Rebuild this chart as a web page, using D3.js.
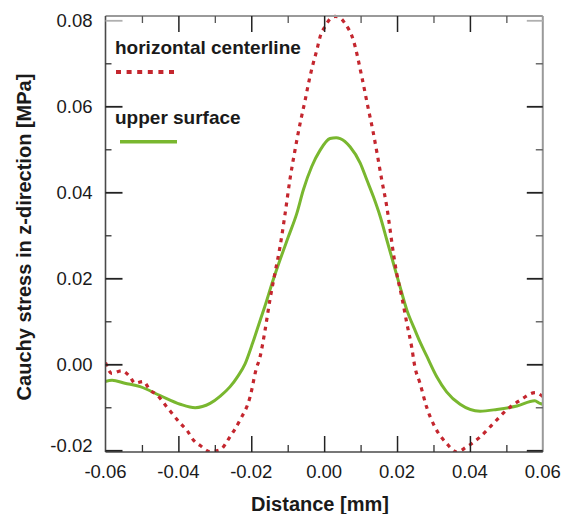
<!DOCTYPE html>
<html><head><meta charset="utf-8">
<script src="https://cdn.jsdelivr.net/npm/d3@7"></script>
<style>
body{margin:0;background:#fff}
svg{display:block}
text{font-family:"Liberation Sans",Arial,sans-serif;fill:#1a1a1a}
</style>
</head><body>
<svg id="chart" width="565" height="514"></svg>
<script>
// ---- data ----
const xTickValues = [-0.06, -0.04, -0.02, 0, 0.02, 0.04, 0.06];
const yTickValues = [-0.02, 0, 0.02, 0.04, 0.06, 0.08];
const xMinorTicks = [-0.05, -0.03, -0.01, 0.01, 0.03, 0.05];
const yMinorTicks = [-0.01, 0.01, 0.03, 0.05, 0.07];
const seriesNames = ["horizontal centerline", "upper surface"];
const xTitle = "Distance [mm]";
const yTitle = "Cauchy stress in z-direction [MPa]";

const centerlineX = [-0.0600,-0.0583,-0.0556,-0.0533,-0.0519,-0.0496,-0.0478,-0.0459,-0.0432,-0.0395,-0.0377,-0.0359,-0.0340,-0.0313,-0.0286,-0.0258,-0.0231,-0.0203,-0.0187,-0.0176,-0.0162,-0.0149,-0.0135,-0.0121,-0.0107,-0.0094,-0.0080,-0.0066,-0.0052,-0.0041,-0.0030,-0.0020,-0.0011,0.0002,0.0016,0.0030,0.0043,0.0057,0.0080,0.0104,0.0120,0.0134,0.0146,0.0158,0.0172,0.0181,0.0190,0.0199,0.0213,0.0227,0.0240,0.0249,0.0263,0.0281,0.0304,0.0336,0.0364,0.0391,0.0428,0.0464,0.0501,0.0537,0.0579,0.0600];
const centerlineY = [0.0004,-0.0021,-0.0015,-0.0029,-0.0044,-0.0040,-0.0060,-0.0071,-0.0099,-0.0137,-0.0153,-0.0176,-0.0189,-0.0203,-0.0199,-0.0168,-0.0130,-0.0075,-0.0013,0.0017,0.0080,0.0149,0.0212,0.0274,0.0351,0.0429,0.0498,0.0560,0.0615,0.0661,0.0700,0.0731,0.0762,0.0785,0.0803,0.0809,0.0806,0.0793,0.0754,0.0666,0.0599,0.0542,0.0487,0.0429,0.0366,0.0313,0.0258,0.0212,0.0157,0.0095,0.0041,-0.0006,-0.0044,-0.0099,-0.0146,-0.0184,-0.0204,-0.0192,-0.0169,-0.0138,-0.0106,-0.0084,-0.0066,-0.0075];

const surfaceX = [-0.0601,-0.0582,-0.0547,-0.0505,-0.0450,-0.0395,-0.0354,-0.0313,-0.0285,-0.0258,-0.0237,-0.0217,-0.0196,-0.0180,-0.0163,-0.0140,-0.0121,-0.0098,-0.0075,-0.0057,-0.0034,-0.0011,0.0016,0.0033,0.0044,0.0071,0.0099,0.0117,0.0135,0.0154,0.0172,0.0190,0.0208,0.0227,0.0249,0.0263,0.0281,0.0309,0.0336,0.0373,0.0428,0.0474,0.0529,0.0578,0.0592,0.0600];
const surfaceY = [-0.0040,-0.0037,-0.0044,-0.0052,-0.0073,-0.0093,-0.0101,-0.0091,-0.0074,-0.0052,-0.0028,0.0001,0.0050,0.0091,0.0134,0.0196,0.0243,0.0297,0.0351,0.0406,0.0460,0.0498,0.0525,0.0527,0.0525,0.0506,0.0468,0.0429,0.0390,0.0343,0.0289,0.0235,0.0181,0.0126,0.0080,0.0052,0.0020,-0.0029,-0.0064,-0.0093,-0.0109,-0.0105,-0.0097,-0.0085,-0.0091,-0.0093];

// ---- layout ----
const L = 105.5, R = 542.8, T = 16, B = 452;
const svg = d3.select("#chart");
const x = d3.scaleLinear().domain([-0.06, 0.06]).range([L, R]);
const y = d3.scaleLinear().domain([-0.0204, 0.081]).range([B, T]);
const fmt = d => (Math.abs(d) < 1e-9 ? 0 : d).toFixed(2);

svg.append("clipPath").attr("id", "clip").append("rect")
  .attr("x", L).attr("y", T - 2).attr("width", R - L).attr("height", B - T + 2);

// curves
const line = d3.line().x(d => x(d[0])).y(d => y(d[1])).curve(d3.curveMonotoneX);
const surface = surfaceX.map((v, i) => [v, surfaceY[i]]);
const center = centerlineX.map((v, i) => [v, centerlineY[i]]);
const g = svg.append("g").attr("clip-path", "url(#clip)");
g.append("path").datum(surface).attr("d", line)
  .attr("fill", "none").attr("stroke", "#79b72f").attr("stroke-width", 3);
g.append("path").datum(center).attr("d", line)
  .attr("fill", "none").attr("stroke", "#c4262e").attr("stroke-width", 3.2)
  .attr("stroke-dasharray", "4,5");

// frame
svg.append("line").attr("x1", L).attr("x2", R).attr("y1", T).attr("y2", T).attr("stroke", "#9a9a9a").attr("stroke-width", 2);
svg.append("line").attr("x1", R).attr("x2", R).attr("y1", T).attr("y2", B).attr("stroke", "#9a9a9a").attr("stroke-width", 2);
svg.append("line").attr("x1", L).attr("x2", L).attr("y1", T).attr("y2", B).attr("stroke", "#4a4a4a").attr("stroke-width", 1.6);
svg.append("line").attr("x1", L).attr("x2", R).attr("y1", B).attr("y2", B).attr("stroke", "#4a4a4a").attr("stroke-width", 1.6);

// ticks via d3 axes
function tickAxis(gen, scale, vals, size, tr, color, w) {
  const a = svg.append("g").attr("transform", tr)
    .call(gen(scale).tickValues(vals).tickSize(size).tickFormat(""));
  a.select(".domain").remove();
  a.selectAll("line").attr("stroke", color).attr("stroke-width", w);
}
const inner = xTickValues.filter(v => Math.abs(v) < 0.059);
tickAxis(d3.axisBottom, x, inner, -16, `translate(0,${B})`, "#222", 1.5);
tickAxis(d3.axisBottom, x, xMinorTicks, -7, `translate(0,${B})`, "#333", 1.3);
tickAxis(d3.axisTop, x, inner, -16, `translate(0,${T})`, "#222", 1.5);
tickAxis(d3.axisTop, x, xMinorTicks, -7, `translate(0,${T})`, "#555", 1.3);
tickAxis(d3.axisLeft, y, yTickValues.filter(v => v < 0.075), -17, `translate(${L},0)`, "#222", 1.8);
tickAxis(d3.axisLeft, y, [0.08], -17, `translate(${L},0)`, "#b0b0b0", 1.8);
tickAxis(d3.axisLeft, y, yMinorTicks, -6, `translate(${L},0)`, "#333", 1.3);
tickAxis(d3.axisRight, y, yTickValues.filter(v => v < 0.075), -16, `translate(${R},0)`, "#222", 1.8);
tickAxis(d3.axisRight, y, [0.08], -16, `translate(${R},0)`, "#b0b0b0", 1.8);
tickAxis(d3.axisRight, y, yMinorTicks, -7, `translate(${R},0)`, "#555", 1.3);

// tick labels
svg.append("g").selectAll("text").data(xTickValues).join("text")
  .attr("x", d => x(d)).attr("y", 477.5).attr("text-anchor", "middle")
  .attr("font-size", 18.5).text(fmt);
svg.append("g").selectAll("text").data(yTickValues).join("text")
  .attr("x", 92.5).attr("y", d => y(d) + (d < -0.01 ? 1.5 : 6.8)).attr("text-anchor", "end")
  .attr("font-size", 18.5).text(fmt);

// axis titles
svg.append("text").attr("x", 320).attr("y", 511).attr("text-anchor", "middle")
  .attr("font-size", 20).attr("font-weight", "bold").text(xTitle);
svg.append("text").attr("transform", "translate(31,237) rotate(-90)").attr("text-anchor", "middle")
  .attr("font-size", 20).attr("font-weight", "bold").text(yTitle);

// legend
svg.append("text").attr("x", 115).attr("y", 54).attr("font-size", 19).attr("font-weight", "bold").text(seriesNames[0]);
svg.append("line").attr("x1", 116).attr("x2", 175).attr("y1", 72).attr("y2", 72)
  .attr("stroke", "#c4262e").attr("stroke-width", 4).attr("stroke-dasharray", "5,5.6");
svg.append("text").attr("x", 115).attr("y", 124).attr("font-size", 19).attr("font-weight", "bold").text(seriesNames[1]);
svg.append("line").attr("x1", 120).attr("x2", 177).attr("y1", 141.7).attr("y2", 141.7)
  .attr("stroke", "#79b72f").attr("stroke-width", 3.5);
</script>
</body></html>
